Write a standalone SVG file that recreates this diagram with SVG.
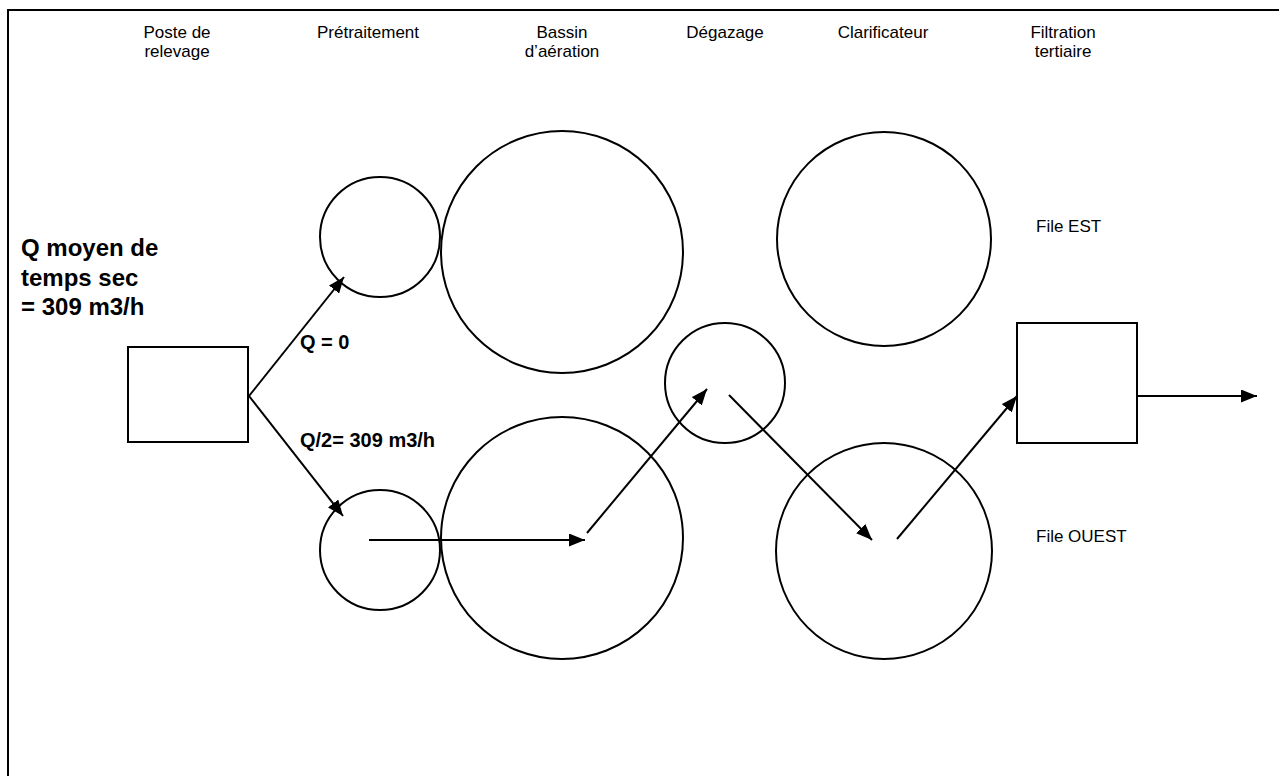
<svg xmlns="http://www.w3.org/2000/svg" width="1279" height="776" viewBox="0 0 1279 776">
<defs>
<style>
.lbl{font-family:"Liberation Sans",Arial,sans-serif;font-size:17px;fill:#000}
.b{font-family:"Liberation Sans",Arial,sans-serif;font-weight:bold;fill:#000}
.shape{fill:#fff;stroke:#000;stroke-width:2}
.conn{stroke:#000;stroke-width:2;fill:none}
</style>
<marker id="arr" viewBox="0 0 16 13" refX="16" refY="6.5" markerWidth="16" markerHeight="13" orient="auto" markerUnits="userSpaceOnUse">
<path d="M0,0 L16,6.5 L0,13 z" fill="#000"/>
</marker>
</defs>
<rect width="1279" height="776" fill="#fff"/>
<path d="M8,790 V10 H1290" fill="none" stroke="#000" stroke-width="2"/>

<g id="headers" class="lbl" text-anchor="middle">
<text x="177" y="38">Poste de</text>
<text x="177" y="57">relevage</text>
<text x="368" y="38">Prétraitement</text>
<text x="562" y="38">Bassin</text>
<text x="562" y="57">d’aération</text>
<text x="725" y="38">Dégazage</text>
<text x="883" y="38">Clarificateur</text>
<text x="1063" y="38">Filtration</text>
<text x="1063" y="57">tertiaire</text>
</g>

<g id="poste-relevage"><rect class="shape" x="128" y="347" width="120" height="95"/></g>
<g id="pretraitement-est"><circle class="shape" cx="380" cy="237" r="60"/></g>
<g id="bassin-est"><circle class="shape" cx="562" cy="252" r="121"/></g>
<g id="clarificateur-est"><circle class="shape" cx="884" cy="239" r="107"/></g>
<g id="pretraitement-ouest"><circle class="shape" cx="380" cy="550" r="60"/></g>
<g id="bassin-ouest"><circle class="shape" cx="562" cy="538" r="121"/></g>
<g id="degazage"><circle class="shape" cx="725" cy="383" r="60"/></g>
<g id="clarificateur-ouest"><circle class="shape" cx="884" cy="551" r="108"/></g>
<g id="filtration"><rect class="shape" x="1017" y="323" width="120" height="120"/></g>

<g id="connectors" class="conn">
<line x1="249" y1="396" x2="344" y2="277" marker-end="url(#arr)"/>
<line x1="249" y1="396" x2="343" y2="516" marker-end="url(#arr)"/>
<line x1="369" y1="540" x2="585" y2="540" marker-end="url(#arr)"/>
<line x1="587" y1="533" x2="707" y2="389" marker-end="url(#arr)"/>
<line x1="729" y1="395" x2="872" y2="540" marker-end="url(#arr)"/>
<line x1="897" y1="539" x2="1017" y2="396" marker-end="url(#arr)"/>
<line x1="1137" y1="396" x2="1257" y2="396" marker-end="url(#arr)"/>
</g>

<g id="labels">
<text class="b" font-size="24" x="21" y="256">Q moyen de</text>
<text class="b" font-size="24" x="21" y="286">temps sec</text>
<text class="b" font-size="24" x="21" y="315">= 309 m3/h</text>
<text class="b" font-size="20" x="300" y="349">Q = 0</text>
<text class="b" font-size="20" x="300" y="447">Q/2= 309 m3/h</text>
<text class="lbl" x="1036" y="232">File EST</text>
<text class="lbl" x="1036" y="542">File OUEST</text>
</g>
</svg>
